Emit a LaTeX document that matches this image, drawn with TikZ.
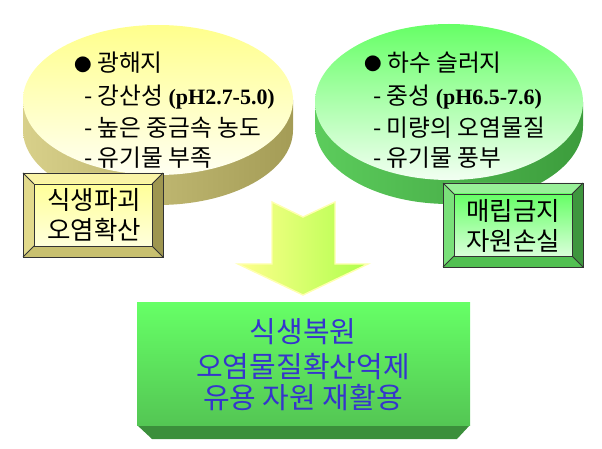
\documentclass[tikz,border=0pt]{standalone}
\usepackage{fontspec}
\setmainfont{Noto Sans CJK KR}
\newfontfamily\phfont{Liberation Serif}
\usetikzlibrary{positioning}

\definecolor{ylTop}{HTML}{FFFF8C}
\definecolor{ylBot}{HTML}{FFFFF2}
\definecolor{ylSideA}{HTML}{D8D08A}
\definecolor{ylSideB}{HTML}{A49C56}
\definecolor{grTop}{HTML}{66FF66}
\definecolor{grBot}{HTML}{F2FFF2}
\definecolor{grSideA}{HTML}{5CCC5C}
\definecolor{grSideB}{HTML}{3C9C3C}
% bevel colours: T top, L left, R right, B bottom, F/G face
\definecolor{ybT}{HTML}{FAF4A6}
\definecolor{ybL}{HTML}{E2DA8C}
\definecolor{ybR}{HTML}{9E9650}
\definecolor{ybB}{HTML}{C8C070}
\definecolor{ybF}{HTML}{FFFF99}
\definecolor{ybG}{HTML}{FFFFDC}
\definecolor{gbT}{HTML}{98F098}
\definecolor{gbL}{HTML}{7AE07A}
\definecolor{gbR}{HTML}{3E963E}
\definecolor{gbB}{HTML}{52C052}
\definecolor{gbF}{HTML}{66FF66}
\definecolor{gbG}{HTML}{DAFFDA}
\definecolor{txtBlue}{HTML}{3535CC}

\newcommand{\bevelbox}[5]{%
  \fill[#1T] (#2,#3) -- (#4,#3) -- ({#4-11},{#3+11}) -- ({#2+11},{#3+11}) -- cycle;
  \fill[#1L] (#2,#3) -- ({#2+11},{#3+11}) -- ({#2+11},{#5-11}) -- (#2,#5) -- cycle;
  \fill[#1R] (#4,#3) -- (#4,#5) -- ({#4-11},{#5-11}) -- ({#4-11},{#3+11}) -- cycle;
  \fill[#1B] (#2,#5) -- ({#2+11},{#5-11}) -- ({#4-11},{#5-11}) -- (#4,#5) -- cycle;
  \shade[top color=#1F, bottom color=#1G] ({#2+11},{#3+11}) rectangle ({#4-11},{#5-11});
  \draw[line width=0.45pt, black!80] (#2,#3) rectangle (#4,#5);
  \draw[line width=0.45pt, black!80] ({#2+11},{#3+11}) rectangle ({#4-11},{#5-11});
  \draw[line width=0.45pt, black!80] (#2,#3) -- ({#2+11},{#3+11}) (#4,#3) -- ({#4-11},{#3+11})
    (#2,#5) -- ({#2+11},{#5-11}) (#4,#5) -- ({#4-11},{#5-11});
}

\tikzset{
  item/.style={anchor=west, inner sep=0pt, font=\fontsize{13.5}{15}\selectfont},
  boxtext/.style={align=center, inner sep=0pt, font=\fontsize{14.5}{17.5}\selectfont},
  goaltext/.style={inner sep=0pt, text=txtBlue, font=\fontsize{16.5}{18}\selectfont},
}
\newcommand{\dotmark}{{\fontsize{10}{12}\selectfont\raisebox{0.5pt}{●}}}

\begin{document}
\begin{tikzpicture}[x=0.02cm, y=-0.02cm]
    \useasboundingbox (0,0) rectangle (602,449);

    % left disk
    \shade[left color=ylSideA, right color=ylSideB] (23,100) -- (23,130)
        arc[start angle=180, end angle=0, x radius=135, y radius=75] -- (293,100) -- cycle;
    \shade[top color=ylTop, bottom color=ylBot] (158,100) ellipse (135 and 75);

    % right disk
    \shade[left color=grSideA, right color=grSideB] (315,102) -- (315,126)
        arc[start angle=180, end angle=0, x radius=134, y radius=78] -- (583,102) -- cycle;
    \shade[top color=grTop, bottom color=grBot] (449,102) ellipse (134 and 78);

    \node [item] (mine) at (74,63) {\dotmark\ 광해지};
    \node [item] (mine1) at (84,97) {- 강산성 {\phfont\bfseries\fontsize{12.5}{15}\selectfont (pH2.7-5.0)}};
    \node [item] (mine2) at (84,128) {- 높은 중금속 농도};
    \node [item] (mine3) at (84,158) {- 유기물 부족};

    \node [item] (sludge) at (364,63) {\dotmark\ 하수 슬러지};
    \node [item] (sludge1) at (373,97) {- 중성 {\phfont\bfseries\fontsize{12.5}{15}\selectfont (pH6.5-7.6)}};
    \node [item] (sludge2) at (373,128) {- 미량의 오염물질};
    \node [item] (sludge3) at (373,158) {- 유기물 풍부};

    % bevelled boxes
    \bevelbox{yb}{23}{173}{163}{257}
    \node [boxtext] (harm) at (94,215) {식생파괴\\오염확산};
    \bevelbox{gb}{443}{183}{583}{267}
    \node [boxtext] (loss) at (513,226) {매립금지\\자원손실};

    % arrow
    \shade[left color=ylTop, right color=green!45!yellow!70!white, draw=ylTop!70!white, line width=0.8pt]
        (272,202) -- (303,217) -- (335,202) -- (335,264) -- (368,264) -- (303,295)
        -- (238,264) -- (272,264) -- cycle;

    % result box
    \fill[gbR!95!black] (137,425) -- (470,425) -- (457,439) -- (152,439) -- cycle;
    \shade[top color=grTop, bottom color=gbB!90!grTop] (137,303) rectangle (470,425);
    \node [goaltext] (goal1) at (303,332) {식생복원};
    \node [goaltext] (goal2) at (303,367) {오염물질확산억제};
    \node [goaltext] (goal3) at (303,398) {유용 자원 재활용};
\end{tikzpicture}
\end{document}
